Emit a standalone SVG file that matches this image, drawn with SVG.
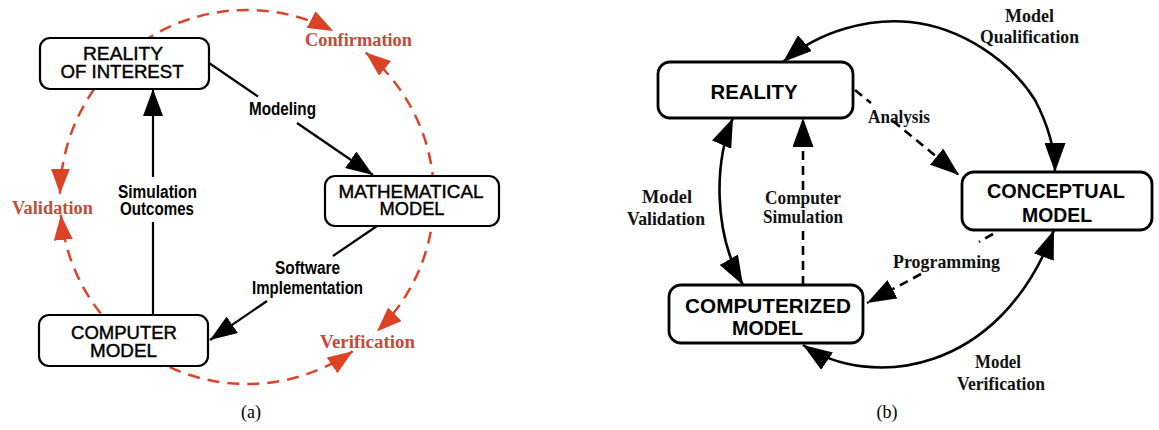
<svg xmlns="http://www.w3.org/2000/svg" width="1159" height="430" viewBox="0 0 1159 430">
  <style>
    .box-a { fill: #fff; stroke: #000; stroke-width: 2.2; }
    .box-b { fill: #fff; stroke: #000; stroke-width: 2.8; }
    .node-a { font-family: "Liberation Sans", Arial, sans-serif; font-size: 19px; fill: #000; stroke: #000; stroke-width: 0.45; text-anchor: middle; }
    .node-b { font-family: "Liberation Sans", Arial, sans-serif; font-size: 20.5px; font-weight: bold; fill: #000; text-anchor: middle; }
    .lbl-a { font-family: "Liberation Sans Narrow", "Liberation Sans", Arial, sans-serif; font-size: 18px; font-weight: bold; fill: #000; text-anchor: middle; }
    .lbl-red { font-family: "Liberation Serif", "Times New Roman", serif; font-size: 18px; font-weight: bold; fill: #c8493a; text-anchor: middle; }
    .lbl-b { font-family: "Liberation Serif", "Times New Roman", serif; font-size: 19.5px; font-weight: bold; fill: #111; text-anchor: middle; }
    .caption { font-family: "Liberation Serif", "Times New Roman", serif; font-size: 18px; fill: #000; text-anchor: middle; }
    .ln-a { fill: none; stroke: #000; stroke-width: 2.2; }
    .ln-red { fill: none; stroke: #d9442b; stroke-width: 2.5; stroke-dasharray: 12 8; }
    .ln-b { fill: none; stroke: #000; stroke-width: 2.6; }
    .dash-b { fill: none; stroke: #000; stroke-width: 2.6; stroke-dasharray: 9 6; }
  </style>
  <defs>
    <marker id="ah-a" viewBox="0 0 27 20" refX="27" refY="10" markerWidth="27" markerHeight="20" markerUnits="userSpaceOnUse" orient="auto-start-reverse">
      <path d="M0,0 L27,10 L0,20 z" fill="#000"/>
    </marker>
    <marker id="ah-red" viewBox="0 0 25 19" refX="25" refY="9.5" markerWidth="25" markerHeight="19" markerUnits="userSpaceOnUse" orient="auto-start-reverse">
      <path d="M0,0 L25,9.5 L0,19 z" fill="#dc4326"/>
    </marker>
    <marker id="ah-b" viewBox="0 0 29 21" refX="29" refY="10.5" markerWidth="29" markerHeight="21" markerUnits="userSpaceOnUse" orient="auto-start-reverse">
      <path d="M0,0 L29,10.5 L0,21 z" fill="#000"/>
    </marker>
  </defs>

  <rect width="1159" height="430" fill="#fff"/>

  <!-- (a) connectors -->
  <g id="connectors-a">
    <!-- dashed red circle of checks -->
    <path class="ln-red" d="M60,193.7 A187,187 0 0 1 333.3,31.1" marker-start="url(#ah-red)" marker-end="url(#ah-red)"/>
    <path class="ln-red" d="M365.7,52.5 A187,187 0 0 1 376.9,331.5" marker-start="url(#ah-red)" marker-end="url(#ah-red)"/>
    <path class="ln-red" d="M352.7,351.3 A187,187 0 0 1 60.9,214.9" marker-start="url(#ah-red)" marker-end="url(#ah-red)"/>
    <!-- Modeling -->
    <path class="ln-a" d="M209,63 L258,96.5"/>
    <path class="ln-a" d="M297,123 L373,175" marker-end="url(#ah-a)"/>
    <!-- Simulation Outcomes -->
    <path class="ln-a" d="M153,315 L153,222"/>
    <path class="ln-a" d="M153,177 L153,89" marker-end="url(#ah-a)"/>
    <!-- Software Implementation -->
    <path class="ln-a" d="M377,226 L333,256"/>
    <path class="ln-a" d="M267,301 L210,340" marker-end="url(#ah-a)"/>
  </g>

  <!-- (a) nodes -->
  <g id="node-reality-of-interest">
    <rect class="box-a" x="40" y="38" width="169" height="51" rx="10"/>
    <text class="node-a" x="123" y="60" textLength="80" lengthAdjust="spacingAndGlyphs">REALITY</text>
    <text class="node-a" x="122" y="78" textLength="123" lengthAdjust="spacingAndGlyphs">OF INTEREST</text>
  </g>
  <g id="node-mathematical-model">
    <rect class="box-a" x="325" y="176" width="174" height="50" rx="10"/>
    <text class="node-a" x="411" y="198" textLength="145" lengthAdjust="spacingAndGlyphs">MATHEMATICAL</text>
    <text class="node-a" x="412" y="215" textLength="65" lengthAdjust="spacingAndGlyphs">MODEL</text>
  </g>
  <g id="node-computer-model">
    <rect class="box-a" x="39" y="315" width="169" height="51" rx="10"/>
    <text class="node-a" x="124" y="339" textLength="106" lengthAdjust="spacingAndGlyphs">COMPUTER</text>
    <text class="node-a" x="123.5" y="357" textLength="67" lengthAdjust="spacingAndGlyphs">MODEL</text>
  </g>

  <!-- (a) labels -->
  <g id="labels-a">
    <text class="lbl-a" x="282.5" y="115" textLength="67" lengthAdjust="spacingAndGlyphs">Modeling</text>
    <text class="lbl-a" x="157.5" y="198" textLength="79" lengthAdjust="spacingAndGlyphs">Simulation</text>
    <text class="lbl-a" x="157" y="215" textLength="74" lengthAdjust="spacingAndGlyphs">Outcomes</text>
    <text class="lbl-a" x="307.5" y="274" textLength="65" lengthAdjust="spacingAndGlyphs">Software</text>
    <text class="lbl-a" x="307.5" y="294" textLength="111" lengthAdjust="spacingAndGlyphs">Implementation</text>
    <text class="lbl-red" x="358.5" y="46" textLength="107" lengthAdjust="spacingAndGlyphs">Confirmation</text>
    <text class="lbl-red" x="52.5" y="214" textLength="81" lengthAdjust="spacingAndGlyphs">Validation</text>
    <text class="lbl-red" x="367.5" y="348" textLength="95" lengthAdjust="spacingAndGlyphs">Verification</text>
    <text class="caption" x="251" y="418">(a)</text>
  </g>

  <!-- (b) connectors -->
  <g id="connectors-b">
    <!-- Model Qualification -->
    <path class="ln-b" d="M783,62 C820,30 870,18 910,22 C960,27 1010,60 1035,100 C1048,125 1055,150 1055,172" marker-start="url(#ah-b)" marker-end="url(#ah-b)"/>
    <!-- Model Validation -->
    <path class="ln-b" d="M733,118 C715,160 712,230 743,285" marker-start="url(#ah-b)" marker-end="url(#ah-b)"/>
    <!-- Model Verification -->
    <path class="ln-b" d="M803,345 C870,390 1000,375 1054,230" marker-start="url(#ah-b)" marker-end="url(#ah-b)"/>
    <!-- Analysis -->
    <path class="dash-b" d="M855,90 L871,103"/>
    <path class="dash-b" d="M893,121 L959,175" marker-end="url(#ah-b)"/>
    <!-- Computer Simulation -->
    <path class="dash-b" d="M803,285 L803,228"/>
    <path class="dash-b" d="M803,190 L803,118" marker-end="url(#ah-b)"/>
    <!-- Programming -->
    <path class="dash-b" d="M993,234 L979,242"/>
    <path class="dash-b" d="M921,274 L867,303" marker-end="url(#ah-b)"/>
  </g>

  <!-- (b) nodes -->
  <g id="node-reality">
    <rect class="box-b" x="658" y="62" width="195" height="56" rx="12"/>
    <text class="node-b" x="754" y="99" textLength="87" lengthAdjust="spacingAndGlyphs">REALITY</text>
  </g>
  <g id="node-conceptual-model">
    <rect class="box-b" x="962" y="172" width="190" height="58" rx="12"/>
    <text class="node-b" x="1056" y="198" textLength="138" lengthAdjust="spacingAndGlyphs">CONCEPTUAL</text>
    <text class="node-b" x="1057" y="222" textLength="70" lengthAdjust="spacingAndGlyphs">MODEL</text>
  </g>
  <g id="node-computerized-model">
    <rect class="box-b" x="669" y="285" width="194" height="58" rx="12"/>
    <text class="node-b" x="768" y="313" textLength="166" lengthAdjust="spacingAndGlyphs">COMPUTERIZED</text>
    <text class="node-b" x="767.5" y="335" textLength="71" lengthAdjust="spacingAndGlyphs">MODEL</text>
  </g>

  <!-- (b) labels -->
  <g id="labels-b">
    <text class="lbl-b" x="1029.5" y="22" textLength="49" lengthAdjust="spacingAndGlyphs">Model</text>
    <text class="lbl-b" x="1029.5" y="43" textLength="99" lengthAdjust="spacingAndGlyphs">Qualification</text>
    <text class="lbl-b" x="899" y="123" textLength="62" lengthAdjust="spacingAndGlyphs">Analysis</text>
    <text class="lbl-b" x="667" y="203" textLength="50" lengthAdjust="spacingAndGlyphs">Model</text>
    <text class="lbl-b" x="666" y="225" textLength="78" lengthAdjust="spacingAndGlyphs">Validation</text>
    <text class="lbl-b" x="803" y="204" textLength="76" lengthAdjust="spacingAndGlyphs">Computer</text>
    <text class="lbl-b" x="803" y="223" textLength="80" lengthAdjust="spacingAndGlyphs">Simulation</text>
    <text class="lbl-b" x="946.5" y="268" textLength="107" lengthAdjust="spacingAndGlyphs">Programming</text>
    <text class="lbl-b" x="998" y="368" textLength="46" lengthAdjust="spacingAndGlyphs">Model</text>
    <text class="lbl-b" x="1001" y="390" textLength="88" lengthAdjust="spacingAndGlyphs">Verification</text>
    <text class="caption" x="887" y="418">(b)</text>
  </g>
</svg>
